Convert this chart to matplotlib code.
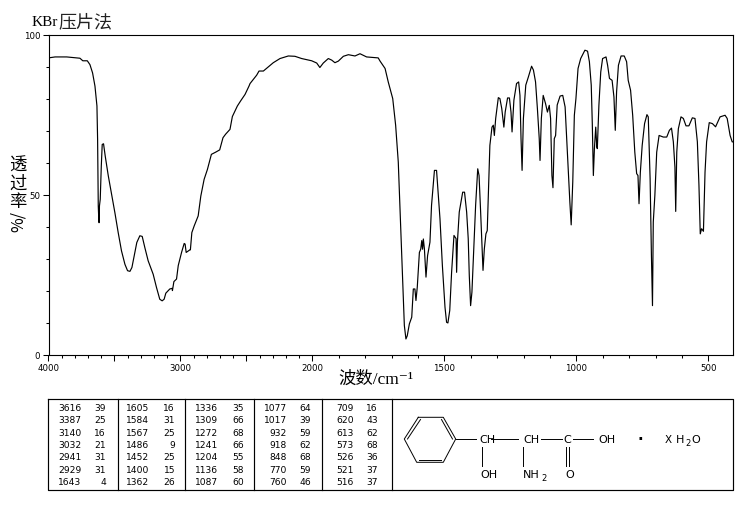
import matplotlib
matplotlib.use("Agg")
import matplotlib.pyplot as plt
import numpy as np

W, H = 737, 510
CJK = ["Noto Sans CJK SC", "DejaVu Sans"]
SERIF_CJK = ["Liberation Serif", "Noto Sans CJK SC", "DejaVu Sans"]

# spectrum
wavenumber = [
    4000, 3950, 3862, 3762, 3740, 3706, 3686, 3666, 3648, 3633, 3628, 3623, 3618, 3616, 3614, 3608,
    3600, 3593, 3583, 3570, 3547, 3522, 3497, 3472, 3447, 3421, 3401, 3383, 3368, 3351, 3331, 3308,
    3290, 3270, 3245, 3207, 3182, 3157, 3139, 3124, 3111, 3081, 3063, 3061, 3050, 3030, 3017, 2992,
    2972, 2965, 2957, 2929, 2925, 2914, 2896, 2866, 2846, 2821, 2796, 2766, 2733, 2703, 2678, 2658,
    2625, 2607, 2569, 2544, 2511, 2481, 2473, 2423, 2405, 2372, 2297, 2246, 2183, 2133, 2082, 2006,
    1984, 1972, 1959, 1940, 1927, 1915, 1902, 1883, 1864, 1839, 1820, 1795, 1751, 1744, 1725, 1713,
    1696, 1685, 1675, 1669, 1662, 1656, 1652, 1646, 1641, 1633, 1624, 1618, 1612, 1608, 1603, 1595,
    1590, 1586, 1583, 1580, 1576, 1570, 1564, 1555, 1549, 1538, 1530, 1517, 1508, 1498, 1492, 1487,
    1480, 1473, 1464, 1456, 1454, 1451, 1444, 1431, 1424, 1416, 1410, 1406, 1401, 1396, 1388, 1382,
    1374, 1369, 1363, 1358, 1354, 1349, 1343, 1338, 1334, 1328, 1320, 1315, 1311, 1306, 1296, 1290,
    1283, 1275, 1270, 1261, 1254, 1248, 1244, 1237, 1227, 1219, 1214, 1210, 1206, 1201, 1192, 1182,
    1170, 1163, 1155, 1148, 1141, 1138, 1133, 1126, 1117, 1110, 1103, 1098, 1093, 1089, 1084, 1079,
    1073, 1062, 1052, 1043, 1037, 1031, 1025, 1020, 1014, 1008, 1002, 994, 984, 968, 958, 951,
    944, 940, 936, 932, 927, 923, 921, 915, 908, 901, 888, 882, 875, 865, 858, 853,
    848, 841, 831, 819, 810, 804, 795, 787, 779, 772, 767, 763, 758, 751, 742, 733,
    728, 721, 716, 712, 709, 703, 696, 687, 671, 658, 648, 640, 633, 627, 624, 620,
    614, 604, 595, 585, 574, 561, 551, 542, 536, 531, 526, 519, 513, 507, 497, 485,
    473, 456, 437, 429, 418, 410, 407,
]
transmittance = [
    92.7, 93.0, 93.0, 92.6, 91.8, 91.8, 90.6, 88.0, 83.9, 77.7, 67.3, 46.5, 41.3, 41.3, 46.5, 48.6,
    59.0, 65.7, 65.9, 62.0, 55.9, 50.2, 44.4, 38.2, 32.5, 28.3, 26.3, 26.1, 27.3, 30.9, 35.1, 37.2,
    37.0, 33.5, 29.4, 25.2, 21.1, 17.4, 16.9, 17.4, 19.3, 20.6, 20.8, 20.1, 22.9, 23.7, 27.9, 32.0,
    34.8, 34.6, 32.0, 32.8, 32.8, 38.2, 40.3, 43.4, 49.6, 54.8, 57.9, 62.6, 63.3, 64.0, 67.8, 68.9,
    70.4, 74.4, 77.7, 79.3, 81.3, 83.9, 84.7, 87.3, 88.6, 88.6, 91.2, 92.5, 93.3, 93.2, 92.5, 91.8,
    91.1, 89.7, 91.1, 92.5, 92.0, 91.2, 91.7, 93.2, 93.7, 93.3, 94.0, 93.0, 92.7, 91.7, 89.4, 85.2,
    80.0, 71.7, 60.2, 46.7, 31.0, 17.5, 9.2, 5.0, 6.0, 9.7, 11.8, 20.6, 20.6, 17.0, 21.2, 32.0,
    33.0, 35.7, 33.0, 36.2, 33.1, 24.3, 31.0, 35.2, 46.7, 57.6, 57.6, 42.5, 28.0, 14.9, 10.2, 10.0,
    13.9, 25.8, 37.3, 36.3, 25.8, 35.2, 44.6, 50.8, 50.8, 44.6, 36.3, 24.8, 15.4, 19.6, 35.2, 46.7,
    58.1, 56.0, 44.6, 34.2, 26.4, 33.1, 37.8, 38.8, 49.8, 65.4, 71.1, 71.7, 68.5, 73.8, 80.3, 80.0,
    76.9, 71.1, 75.8, 80.2, 80.2, 75.8, 69.6, 79.5, 84.7, 85.2, 81.0, 67.5, 57.6, 73.8, 84.2, 86.8,
    90.1, 88.9, 85.2, 76.9, 67.5, 60.7, 73.8, 81.0, 78.4, 75.8, 77.9, 73.8, 56.0, 52.2, 67.5, 68.5,
    78.0, 80.8, 81.0, 77.4, 67.5, 57.0, 47.7, 40.6, 54.0, 74.8, 80.0, 89.4, 92.5, 95.1, 94.8, 91.5,
    84.2, 72.2, 56.0, 64.4, 71.1, 64.9, 64.4, 77.9, 88.3, 92.5, 93.0, 90.4, 86.3, 85.7, 80.5, 70.1,
    82.1, 90.4, 93.3, 93.3, 91.5, 85.7, 82.6, 74.8, 63.3, 56.6, 56.0, 47.2, 57.0, 65.4, 72.2, 75.0,
    74.3, 55.0, 31.0, 15.4, 41.5, 49.8, 63.3, 68.5, 68.0, 68.0, 70.1, 70.8, 66.5, 58.6, 44.8, 63.3,
    70.6, 74.3, 73.8, 71.5, 71.5, 74.0, 73.8, 66.5, 53.0, 37.8, 39.4, 38.6, 57.0, 66.5, 72.5, 72.2,
    71.2, 74.3, 74.8, 73.8, 68.5, 66.5, 66.5,
]

labelled_ticks = [4000, 3000, 2000, 1500, 1000, 500]
long_ticks = [4000, 3500, 3000, 2500, 2000, 1500, 1000, 500]
percent_ticks = [0, 50, 100]

# peak table, one pair of lists per block
peak_blocks = [
    (["3616", "3387", "3140", "3032", "2941", "2929", "1643"], ["39", "25", "16", "21", "31", "31", "4"]),
    (["1605", "1584", "1567", "1486", "1452", "1400", "1362"], ["16", "31", "25", "9", "25", "15", "26"]),
    (["1336", "1309", "1272", "1241", "1204", "1136", "1087"], ["35", "66", "68", "66", "55", "58", "60"]),
    (["1077", "1017", "932", "918", "848", "770", "760"], ["64", "39", "59", "62", "68", "59", "46"]),
    (["709", "620", "613", "573", "526", "521", "516"], ["16", "43", "62", "68", "36", "37", "37"]),
]


def forward(w):
    # above 2000 the wavenumber axis is compressed by two
    w = np.asarray(w, dtype=float)
    return np.where(w < 2000, w, 2000 + (w - 2000) / 2)


def inverse(v):
    v = np.asarray(v, dtype=float)
    return np.where(v < 2000, v, 2000 + (v - 2000) * 2)


fig = plt.figure(figsize=(W / 100, H / 100), dpi=100, facecolor="white")
left, right, top, bottom = 48.5, 733, 35.5, 356
ax = fig.add_axes([left / W, 1 - bottom / H, (right - left) / W, (bottom - top) / H])
ax.set_xscale("function", functions=(forward, inverse))
ax.plot(wavenumber, transmittance, color="black", lw=0.85)
ax.set_xlim(4000, 407)
ax.set_ylim(0, 100)

ax.set_xticks(long_ticks)
ax.set_xticklabels([str(t) if t in labelled_ticks else "" for t in long_ticks], fontsize=6.2)
ax.set_xticks(np.arange(500, 4000, 100), minor=True)
ax.set_yticks(percent_ticks)
ax.set_yticklabels([str(t) for t in percent_ticks], fontsize=6.2)
ax.set_yticks(np.arange(0, 101, 10), minor=True)
ax.tick_params(axis="both", which="major", length=4, width=0.75, pad=2)
ax.tick_params(axis="both", which="minor", length=2, width=0.75)
for s in ax.spines.values():
    s.set_linewidth(0.8)

# everything outside the axes is placed in pixels
page = fig.add_axes([0, 0, 1, 1])
page.set_xlim(0, W)
page.set_ylim(H, 0)
page.axis("off")
page.patch.set_alpha(0)

page.text(32, 22, "KBr", family=SERIF_CJK, fontsize=11, ha="left", va="center")
page.text(58, 22, "压片法", family=CJK, fontsize=13, color="#222222", ha="left", va="center")
page.text(338, 380, "波数/cm⁻¹", family=SERIF_CJK, fontsize=12.5, fontweight="medium", ha="left", va="center")
for ch, y in zip("透过率", [166, 184, 202]):
    page.text(18, y, ch, family=CJK, fontsize=12.5, fontweight="medium", ha="center", va="center")
page.text(18, 222, "%/", family=CJK, fontsize=11.5, rotation=90, ha="center", va="center")

# table frame
page.plot([48.5, 733, 733, 48.5, 48.5], [399.5, 399.5, 491, 491, 399.5], color="black", lw=0.85)
for x in [117.7, 185.3, 254.3, 322.3, 391.7]:
    page.plot([x, x], [399.5, 491], color="black", lw=0.85)

block_x = [(81.7, 106), (149.5, 175), (218.5, 244), (287, 311), (354, 378)]
for (wn_col, pct_col), (x1, x2) in zip(peak_blocks, block_x):
    for i, (a, b) in enumerate(zip(wn_col, pct_col)):
        y = 408.7 + i * 12.3
        page.text(x1, y, a, fontsize=6.6, ha="right", va="center")
        page.text(x2, y, b, fontsize=6.6, ha="right", va="center")

# structure
ring_x = [418.3, 443.3, 455.7, 443.3, 416.7, 404.3, 418.3]
ring_y = [418.3, 418.3, 440, 463.3, 463.3, 440, 418.3]
page.plot(ring_x, ring_y, color="black", lw=0.7)
for xs, ys in [
    ([420.5, 407.5], [420.5, 440]),
    ([441.5, 452.5], [420.5, 440]),
    ([419, 441.5], [461, 461]),
    ([455.7, 476], [440, 440]),
    ([491, 518], [440, 440]),
    ([541, 562], [440, 440]),
    ([573, 593], [440, 440]),
    ([482, 482], [448, 467]),
    ([523.5, 523.5], [448, 467]),
    ([566, 566], [448, 467]),
    ([569.5, 569.5], [448, 467]),
]:
    page.plot(xs, ys, color="black", lw=0.7)

for x, y, s in [
    (487.7, 440, "CH"),
    (531.7, 440, "CH"),
    (567.7, 440, "C"),
    (606.7, 440, "OH"),
    (489.3, 475.5, "OH"),
    (569.5, 475.5, "O"),
]:
    page.text(x, y, s, fontsize=8, ha="center", va="center")
page.text(523, 475.5, "NH", fontsize=8, ha="left", va="center")
page.text(541, 479, "2", fontsize=6, ha="left", va="center")
page.text(640, 440, "·", fontsize=11, fontweight="bold", ha="center", va="center")
page.text(668, 440, "X", fontsize=7.5, ha="center", va="center")
page.text(676, 440, "H", fontsize=8, ha="left", va="center")
page.text(685.5, 443.5, "2", fontsize=6, ha="left", va="center")
page.text(691, 440, "O", fontsize=8, ha="left", va="center")

fig.savefig("out.png", dpi=100)
